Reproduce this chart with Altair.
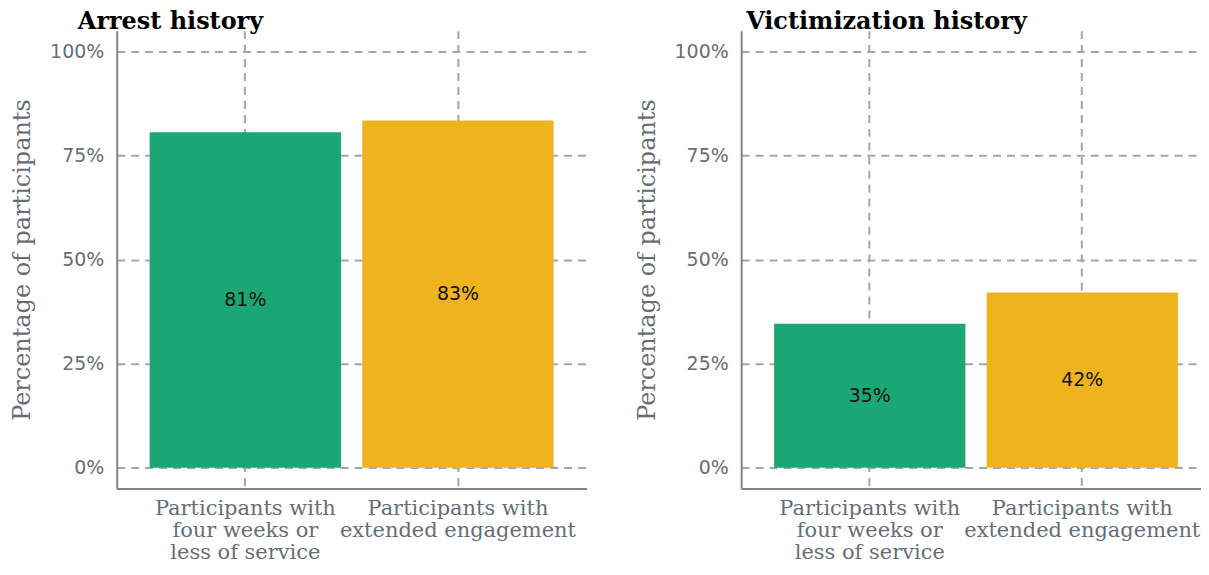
import altair as alt
import pandas as pd

categories = [
    "Participants with\nfour weeks or\nless of service",
    "Participants with\nextended engagement",
]
colors = ["#1aa774", "#efb41d"]

arrest_values = [80.6, 83.4]
arrest_labels = ["81%", "83%"]
victim_values = [34.6, 42.1]
victim_labels = ["35%", "42%"]

y_ticks = [0, 25, 50, 75, 100]

GRID = "#a3a6ad"
DOMAIN = "#80858d"
LABEL = "#666d77"
SERIF = "DejaVu Serif"
SANS = "DejaVu Sans"


def panel(title, values, labels, dx, width, outer, align):
    df = pd.DataFrame({"group": categories, "value": values, "label": labels})
    base = alt.Chart(df).transform_calculate(mid="datum.value / 2")
    x_scale = alt.Scale(paddingInner=0.1, paddingOuter=outer, align=align)
    x = alt.X(
        "group:N",
        sort=categories,
        title=None,
        scale=x_scale,
        axis=alt.Axis(
            labelExpr="split(datum.label, '\\n')",
            labelAngle=0,
            labelLimit=0,
            labelFont=SERIF,
            labelFontSize=21,
            labelColor=LABEL,
            labelLineHeight=22,
            labelPadding=9,
            grid=True,
            gridDash=[8, 6],
            gridColor=GRID,
            gridWidth=2,
            ticks=False,
            domainColor=DOMAIN,
            domainWidth=2,
        ),
    )
    y_scale = alt.Scale(domain=[-5, 105], nice=False)
    bars = base.mark_bar().encode(
        x=x,
        y=alt.Y(
            "value:Q",
            scale=y_scale,
            title="Percentage of participants",
            axis=alt.Axis(
                values=y_ticks,
                labelExpr="datum.value + '%'",
                labelFont=SANS,
                labelFontSize=19,
                labelColor=LABEL,
                labelPadding=13,
                titleFont=SERIF,
                titleFontSize=24,
                titleFontWeight="normal",
                titleColor=LABEL,
                titlePadding=15,
                grid=True,
                gridDash=[8, 6],
                gridColor=GRID,
                gridWidth=2,
                ticks=False,
                domainColor=DOMAIN,
                domainWidth=2,
            ),
        ),
        color=alt.Color(
            "group:N", scale=alt.Scale(domain=categories, range=colors), legend=None
        ),
    )
    text = base.mark_text(font=SANS, fontSize=19, color="#111111").encode(
        x=alt.X("group:N", sort=categories),
        y=alt.Y("mid:Q", scale=y_scale),
        text="label:N",
    )
    return alt.layer(bars, text).properties(
        width=width,
        height=459,
        title=alt.TitleParams(
            title,
            anchor="start",
            frame="group",
            dx=dx,
            font=SERIF,
            fontSize=24,
            fontWeight="bold",
            color="#000000",
            offset=-3,
        ),
    )


chart = (
    alt.hconcat(
        panel("Arrest history", arrest_values, arrest_labels, -39, 471, 0.155, 0.5),
        panel("Victimization history", victim_values, victim_labels, 5, 461, 0.132, 0.588),
        spacing=48,
    )
    .properties(padding={"left": 2, "top": 1, "right": 0, "bottom": 0})
    .configure_view(stroke=None)
)

chart.save("out.html", embed_options={"renderer": "svg", "actions": False})
